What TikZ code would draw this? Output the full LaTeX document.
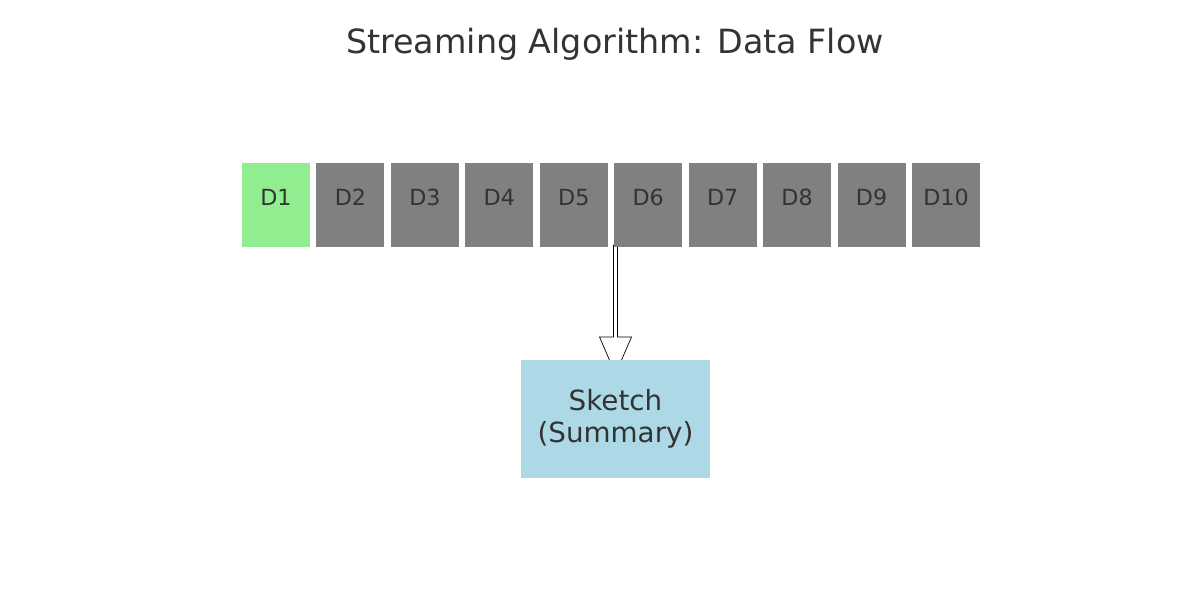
\documentclass[tikz,border=0pt]{standalone}
\usepackage{fontspec}
\setmainfont{DejaVu Sans}
\usepackage{xcolor}
\usepackage{tikz}
\usetikzlibrary{arrows.meta,positioning,calc,backgrounds}
\definecolor{inkgray}{HTML}{333333}
\definecolor{seengreen}{HTML}{90EE90}
\definecolor{waitgray}{HTML}{808080}
\definecolor{sketchblue}{HTML}{ADD8E6}
\tikzset{
  datablk/.style={fill=waitgray, minimum width=49pt, minimum height=60.5pt, inner sep=0pt, outer sep=0pt,
    text=inkgray, font=\fontsize{16}{19}\selectfont, text height=11.7pt, text depth=10.8pt},
  seen/.style={datablk, fill=seengreen},
  sketchbox/.style={fill=sketchblue, minimum width=136pt, minimum height=85pt, inner sep=0pt, outer sep=0pt,
    text=inkgray, font=\fontsize{20}{23.5}\selectfont, align=center},
  titletxt/.style={text=inkgray, font=\fontsize{24}{28}\selectfont},
  hollow/.style={draw=black, fill=white, line width=0.5pt, line join=miter},
}

\begin{document}
\begin{tikzpicture}[x=0.72pt, y=-0.72pt]
\useasboundingbox (0,0) rectangle (1200,600);
\node[titletxt] (title) at (615,44) {Streaming Algorithm: Data Flow};
% stream of data items
\node[seen] (d1) at (276,205) {D1};
\foreach \i [remember=\i as \prev (initially 1)] in {2,...,10}
  \node[datablk, right=4.6pt of d\prev] (d\i) {D\i};
\node[sketchbox] (sketch) at (615.5,419) {Sketch\\(Summary)};
\coordinate (src) at (sketch.north |- d6.south);
\begin{scope}[on background layer]
\draw[hollow] ($(src)+(-2,-2)$) -- ($(sketch.north)+(-2,-23)$) -- ($(sketch.north)+(-16,-23)$)
  -- ($(sketch.north)+(0,14)$) -- ($(sketch.north)+(16,-23)$) -- ($(sketch.north)+(2,-23)$)
  -- ($(src)+(2,-2)$) -- cycle;
\end{scope}
\end{tikzpicture}
\end{document}
